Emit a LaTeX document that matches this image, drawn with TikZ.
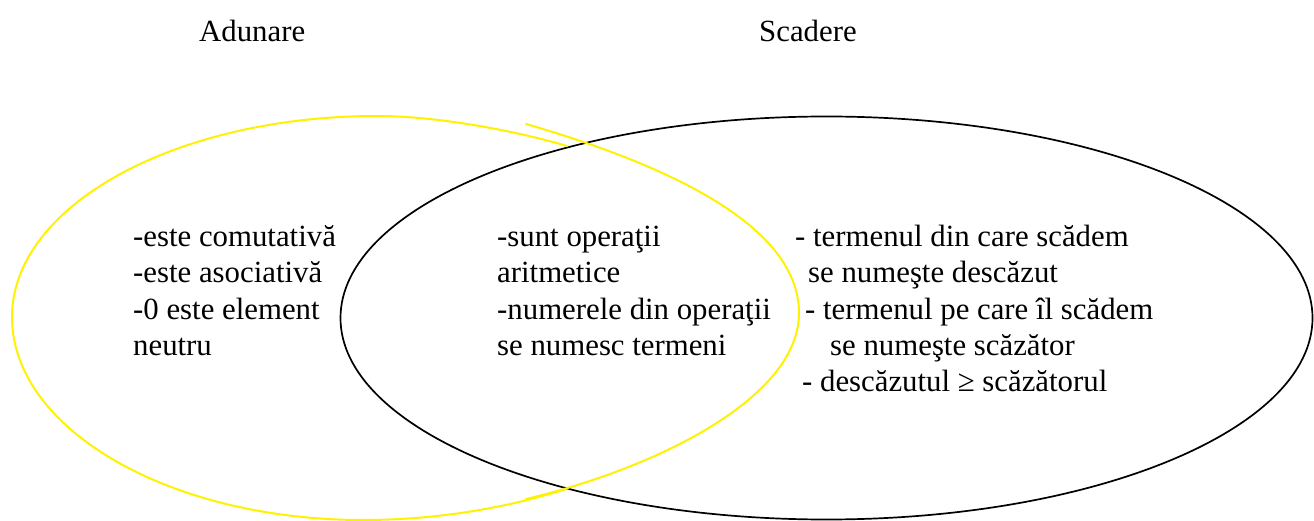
\documentclass[tikz,border=0pt]{standalone}
\usepackage{fontspec}
\setmainfont{Liberation Serif}
\newfontfamily\tnrfont{Liberation Serif}
\begin{document}
\begin{tikzpicture}[x=1pt,y=-1pt,
  txt/.style={anchor=base west,inner sep=0pt,font=\tnrfont\fontsize{30.8}{36}\selectfont},
  blackring/.style={draw=black,line width=1.7pt},
  yellowring/.style={draw=yellow,line width=2pt,line cap=round}]
\useasboundingbox (0,0) rectangle (1314,521);
% titles
\node[txt] (adun) at (199,42) {Adunare};
\node[txt] (scad) at (759,42) {Scadere};
% black ellipse
\draw[blackring] (826.5,318) ellipse [x radius=486pt, y radius=201.5pt];
% yellow hand-drawn ring
\draw[yellowring] (526,124) .. controls (650,160) and (799,220) .. (799,313)
  .. controls (799,400) and (650,470) .. (526,499);
\draw[yellowring] (566,489) .. controls (500,510) and (430,520) .. (363,520)
  .. controls (169,520) and (12,429) .. (12,317)
  .. controls (12,206) and (175,116) .. (377,116)
  .. controls (440,116) and (520,132) .. (567,146);
% left block
\node[txt] (l1) at (133,247) {-este comutativă};
\node[txt] (l2) at (133,283) {-este asociativă};
\node[txt] (l3) at (133,319) {-0 este element};
\node[txt] (l4) at (133,355) {neutru};
% middle block
\node[txt] (m1) at (497,247) {-sunt operaţii};
\node[txt] (m2) at (497,283) {aritmetice};
\node[txt] (m3) at (497,319) {-numerele din operaţii};
\node[txt] (m4) at (497,355) {se numesc termeni};
% right block
\node[txt] (r1) at (795,247) {- termenul din care scădem};
\node[txt] (r2) at (808,283) {se numeşte descăzut};
\node[txt] (r3) at (805,319) {- termenul pe care îl scădem};
\node[txt] (r4) at (830,355) {se numeşte scăzător};
\node[txt] (r5) at (802,391) {- descăzutul ≥ scăzătorul};
\end{tikzpicture}
\end{document}
